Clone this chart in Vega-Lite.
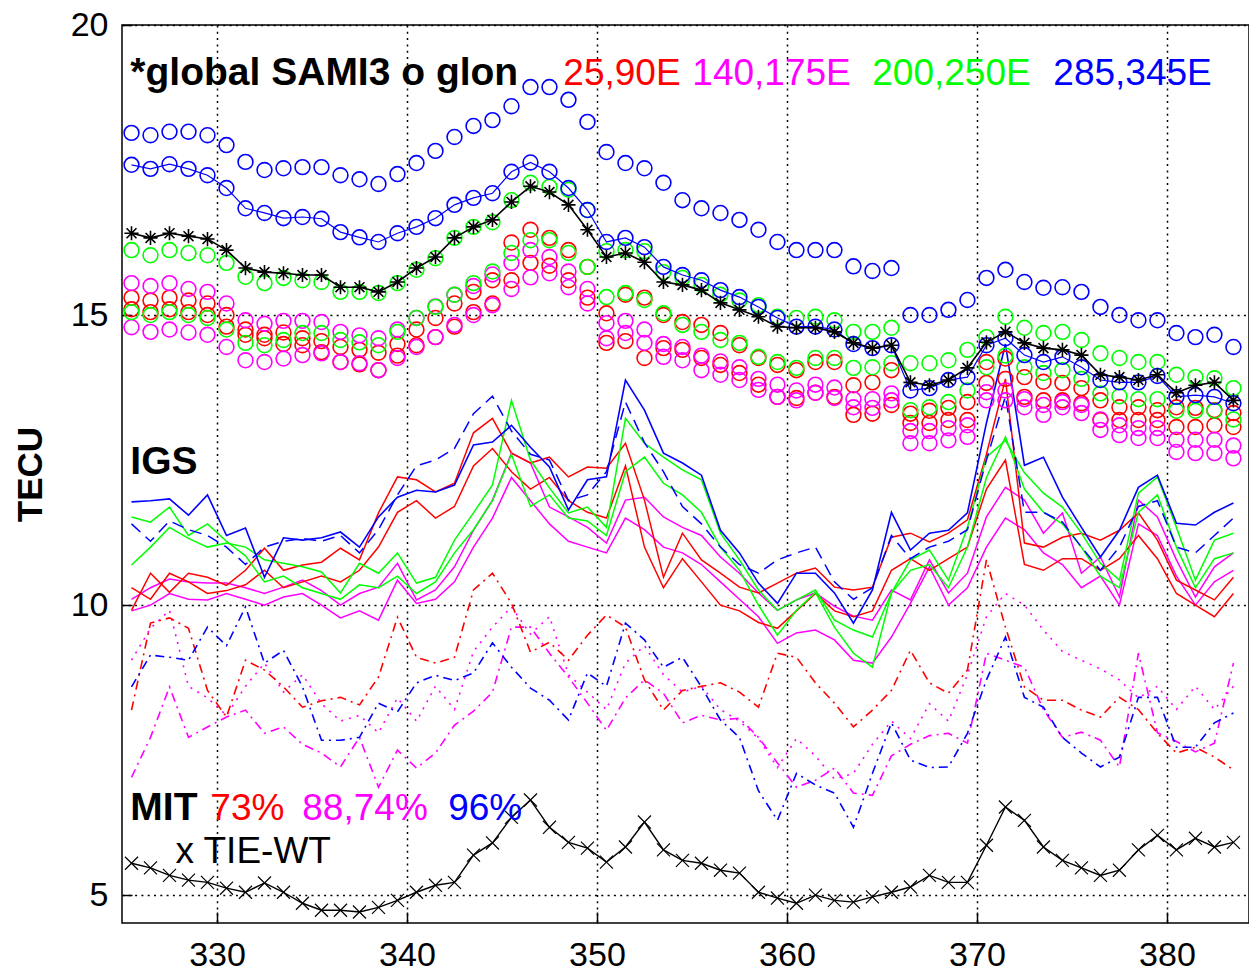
{
"$schema":"https://vega.github.io/schema/vega-lite/v6.json",
"width":1127,"height":898,
"autosize":{"type":"none"},
"padding":{"left":122,"top":25,"right":0,"bottom":49},
"background":"white",
"config":{"view":{"stroke":"black","strokeWidth":1.5},
"axis":{"domain":false,"grid":true,"gridColor":"black","gridDash":[2,4.3],"gridWidth":1.5,"gridOpacity":1,"tickColor":"black","tickWidth":1.5,"labelColor":"black","labelFont":"Liberation Sans","labelFontSize":34,"labelFontWeight":"normal"}},
"datasets":{
"k":[{"x":325.5,"y":16.41},{"x":326.5,"y":16.33},{"x":327.5,"y":16.41},{"x":328.5,"y":16.36},{"x":329.5,"y":16.31},{"x":330.5,"y":16.12},{"x":331.5,"y":15.81},{"x":332.5,"y":15.74},{"x":333.5,"y":15.72},{"x":334.5,"y":15.69},{"x":335.5,"y":15.69},{"x":336.5,"y":15.48},{"x":337.5,"y":15.48},{"x":338.5,"y":15.4},{"x":339.5,"y":15.57},{"x":340.5,"y":15.81},{"x":341.5,"y":16.0},{"x":342.5,"y":16.33},{"x":343.5,"y":16.52},{"x":344.5,"y":16.64},{"x":345.5,"y":16.95},{"x":346.5,"y":17.22},{"x":347.5,"y":17.12},{"x":348.5,"y":16.9},{"x":349.5,"y":16.47},{"x":350.5,"y":16.0},{"x":351.5,"y":16.07},{"x":352.5,"y":15.91},{"x":353.5,"y":15.57},{"x":354.5,"y":15.52},{"x":355.5,"y":15.43},{"x":356.5,"y":15.21},{"x":357.5,"y":15.09},{"x":358.5,"y":14.97},{"x":359.5,"y":14.8},{"x":360.5,"y":14.78},{"x":361.5,"y":14.78},{"x":362.5,"y":14.71},{"x":363.5,"y":14.52},{"x":364.5,"y":14.43},{"x":365.5,"y":14.48},{"x":366.5,"y":13.84},{"x":367.5,"y":13.79},{"x":368.5,"y":13.88},{"x":369.5,"y":14.09},{"x":370.5,"y":14.53},{"x":371.5,"y":14.71},{"x":372.5,"y":14.52},{"x":373.5,"y":14.43},{"x":374.5,"y":14.4},{"x":375.5,"y":14.31},{"x":376.5,"y":13.97},{"x":377.5,"y":13.93},{"x":378.5,"y":13.88},{"x":379.5,"y":13.97},{"x":380.5,"y":13.66},{"x":381.5,"y":13.79},{"x":382.5,"y":13.84},{"x":383.5,"y":13.53}],
"b1":[{"x":325.5,"y":18.14},{"x":326.5,"y":18.1},{"x":327.5,"y":18.16},{"x":328.5,"y":18.16},{"x":329.5,"y":18.1},{"x":330.5,"y":17.93},{"x":331.5,"y":17.64},{"x":332.5,"y":17.5},{"x":333.5,"y":17.53},{"x":334.5,"y":17.55},{"x":335.5,"y":17.55},{"x":336.5,"y":17.41},{"x":337.5,"y":17.34},{"x":338.5,"y":17.26},{"x":339.5,"y":17.43},{"x":340.5,"y":17.62},{"x":341.5,"y":17.83},{"x":342.5,"y":18.07},{"x":343.5,"y":18.26},{"x":344.5,"y":18.36},{"x":345.5,"y":18.6},{"x":346.5,"y":18.93},{"x":347.5,"y":18.93},{"x":348.5,"y":18.71},{"x":349.5,"y":18.33},{"x":350.5,"y":17.81},{"x":351.5,"y":17.62},{"x":352.5,"y":17.53},{"x":353.5,"y":17.28},{"x":354.5,"y":16.98},{"x":355.5,"y":16.84},{"x":356.5,"y":16.76},{"x":357.5,"y":16.64},{"x":358.5,"y":16.47},{"x":359.5,"y":16.26},{"x":360.5,"y":16.12},{"x":361.5,"y":16.12},{"x":362.5,"y":16.12},{"x":363.5,"y":15.84},{"x":364.5,"y":15.76},{"x":365.5,"y":15.81},{"x":366.5,"y":15.0},{"x":367.5,"y":15.0},{"x":368.5,"y":15.09},{"x":369.5,"y":15.26},{"x":370.5,"y":15.64},{"x":371.5,"y":15.78},{"x":372.5,"y":15.57},{"x":373.5,"y":15.47},{"x":374.5,"y":15.48},{"x":375.5,"y":15.4},{"x":376.5,"y":15.14},{"x":377.5,"y":15.0},{"x":378.5,"y":14.91},{"x":379.5,"y":14.91},{"x":380.5,"y":14.69},{"x":381.5,"y":14.62},{"x":382.5,"y":14.66},{"x":383.5,"y":14.45}],
"b2":[{"x":325.5,"y":17.59},{"x":326.5,"y":17.52},{"x":327.5,"y":17.6},{"x":328.5,"y":17.52},{"x":329.5,"y":17.41},{"x":330.5,"y":17.19},{"x":331.5,"y":16.84},{"x":332.5,"y":16.76},{"x":333.5,"y":16.67},{"x":334.5,"y":16.69},{"x":335.5,"y":16.66},{"x":336.5,"y":16.43},{"x":337.5,"y":16.34},{"x":338.5,"y":16.26},{"x":339.5,"y":16.41},{"x":340.5,"y":16.52},{"x":341.5,"y":16.67},{"x":342.5,"y":16.9},{"x":343.5,"y":17.02},{"x":344.5,"y":17.1},{"x":345.5,"y":17.47},{"x":346.5,"y":17.63},{"x":347.5,"y":17.47},{"x":348.5,"y":17.19},{"x":349.5,"y":16.81},{"x":350.5,"y":16.26},{"x":351.5,"y":16.33},{"x":352.5,"y":16.17},{"x":353.5,"y":15.83},{"x":354.5,"y":15.69},{"x":355.5,"y":15.6},{"x":356.5,"y":15.43},{"x":357.5,"y":15.31},{"x":358.5,"y":15.14},{"x":359.5,"y":14.95},{"x":360.5,"y":14.8},{"x":361.5,"y":14.8},{"x":362.5,"y":14.75},{"x":363.5,"y":14.5},{"x":364.5,"y":14.43},{"x":365.5,"y":14.48},{"x":366.5,"y":13.7},{"x":367.5,"y":13.74},{"x":368.5,"y":13.88},{"x":369.5,"y":13.93},{"x":370.5,"y":14.48},{"x":371.5,"y":14.6},{"x":372.5,"y":14.31},{"x":373.5,"y":14.19},{"x":374.5,"y":14.28},{"x":375.5,"y":14.1},{"x":376.5,"y":13.88},{"x":377.5,"y":13.84},{"x":378.5,"y":13.84},{"x":379.5,"y":13.95},{"x":380.5,"y":13.59},{"x":381.5,"y":13.62},{"x":382.5,"y":13.59},{"x":383.5,"y":13.48}],
"g1":[{"x":325.5,"y":16.12},{"x":326.5,"y":16.03},{"x":327.5,"y":16.12},{"x":328.5,"y":16.07},{"x":329.5,"y":16.03},{"x":330.5,"y":15.9},{"x":331.5,"y":15.66},{"x":332.5,"y":15.55},{"x":333.5,"y":15.64},{"x":334.5,"y":15.6},{"x":335.5,"y":15.57},{"x":336.5,"y":15.4},{"x":337.5,"y":15.4},{"x":338.5,"y":15.38},{"x":339.5,"y":15.55},{"x":340.5,"y":15.78},{"x":341.5,"y":15.98},{"x":342.5,"y":16.33},{"x":343.5,"y":16.52},{"x":344.5,"y":16.6},{"x":345.5,"y":16.98},{"x":346.5,"y":17.28},{"x":347.5,"y":17.21},{"x":348.5,"y":17.16},{"x":349.5,"y":16.81},{"x":350.5,"y":16.1},{"x":351.5,"y":16.12},{"x":352.5,"y":16.1},{"x":353.5,"y":15.74},{"x":354.5,"y":15.64},{"x":355.5,"y":15.52},{"x":356.5,"y":15.35},{"x":357.5,"y":15.25},{"x":358.5,"y":15.17},{"x":359.5,"y":14.97},{"x":360.5,"y":14.95},{"x":361.5,"y":14.97},{"x":362.5,"y":14.91},{"x":363.5,"y":14.71},{"x":364.5,"y":14.71},{"x":365.5,"y":14.78},{"x":366.5,"y":14.17},{"x":367.5,"y":14.17},{"x":368.5,"y":14.22},{"x":369.5,"y":14.4},{"x":370.5,"y":14.62},{"x":371.5,"y":14.97},{"x":372.5,"y":14.78},{"x":373.5,"y":14.69},{"x":374.5,"y":14.71},{"x":375.5,"y":14.57},{"x":376.5,"y":14.34},{"x":377.5,"y":14.26},{"x":378.5,"y":14.19},{"x":379.5,"y":14.19},{"x":380.5,"y":13.97},{"x":381.5,"y":13.93},{"x":382.5,"y":13.91},{"x":383.5,"y":13.74}],
"g2":[{"x":325.5,"y":15.05},{"x":326.5,"y":15.0},{"x":327.5,"y":15.05},{"x":328.5,"y":15.0},{"x":329.5,"y":14.95},{"x":330.5,"y":14.75},{"x":331.5,"y":14.52},{"x":332.5,"y":14.48},{"x":333.5,"y":14.57},{"x":334.5,"y":14.69},{"x":335.5,"y":14.69},{"x":336.5,"y":14.57},{"x":337.5,"y":14.53},{"x":338.5,"y":14.48},{"x":339.5,"y":14.71},{"x":340.5,"y":14.95},{"x":341.5,"y":15.14},{"x":342.5,"y":15.35},{"x":343.5,"y":15.55},{"x":344.5,"y":15.75},{"x":345.5,"y":16.07},{"x":346.5,"y":16.29},{"x":347.5,"y":16.29},{"x":348.5,"y":16.07},{"x":349.5,"y":15.83},{"x":350.5,"y":15.31},{"x":351.5,"y":15.38},{"x":352.5,"y":15.26},{"x":353.5,"y":15.03},{"x":354.5,"y":14.83},{"x":355.5,"y":14.71},{"x":356.5,"y":14.57},{"x":357.5,"y":14.52},{"x":358.5,"y":14.28},{"x":359.5,"y":14.19},{"x":360.5,"y":14.09},{"x":361.5,"y":14.26},{"x":362.5,"y":14.26},{"x":363.5,"y":14.09},{"x":364.5,"y":14.1},{"x":365.5,"y":14.17},{"x":366.5,"y":13.36},{"x":367.5,"y":13.41},{"x":368.5,"y":13.5},{"x":369.5,"y":13.7},{"x":370.5,"y":14.1},{"x":371.5,"y":14.3},{"x":372.5,"y":14.1},{"x":373.5,"y":14.0},{"x":374.5,"y":14.05},{"x":375.5,"y":13.9},{"x":376.5,"y":13.65},{"x":377.5,"y":13.6},{"x":378.5,"y":13.55},{"x":379.5,"y":13.55},{"x":380.5,"y":13.35},{"x":381.5,"y":13.35},{"x":382.5,"y":13.35},{"x":383.5,"y":13.2}],
"r1":[{"x":325.5,"y":15.3},{"x":326.5,"y":15.25},{"x":327.5,"y":15.3},{"x":328.5,"y":15.25},{"x":329.5,"y":15.2},{"x":330.5,"y":15.0},{"x":331.5,"y":14.75},{"x":332.5,"y":14.66},{"x":333.5,"y":14.7},{"x":334.5,"y":14.6},{"x":335.5,"y":14.55},{"x":336.5,"y":14.45},{"x":337.5,"y":14.4},{"x":338.5,"y":14.35},{"x":339.5,"y":14.5},{"x":340.5,"y":14.75},{"x":341.5,"y":14.95},{"x":342.5,"y":15.2},{"x":343.5,"y":15.4},{"x":344.5,"y":15.6},{"x":345.5,"y":16.25},{"x":346.5,"y":16.47},{"x":347.5,"y":16.33},{"x":348.5,"y":16.12},{"x":349.5,"y":15.83},{"x":350.5,"y":15.03},{"x":351.5,"y":15.35},{"x":352.5,"y":15.3},{"x":353.5,"y":15.0},{"x":354.5,"y":14.88},{"x":355.5,"y":14.83},{"x":356.5,"y":14.69},{"x":357.5,"y":14.48},{"x":358.5,"y":14.26},{"x":359.5,"y":14.14},{"x":360.5,"y":14.05},{"x":361.5,"y":14.19},{"x":362.5,"y":14.19},{"x":363.5,"y":13.79},{"x":364.5,"y":13.84},{"x":365.5,"y":14.05},{"x":366.5,"y":13.3},{"x":367.5,"y":13.35},{"x":368.5,"y":13.4},{"x":369.5,"y":13.5},{"x":370.5,"y":14.19},{"x":371.5,"y":14.25},{"x":372.5,"y":13.93},{"x":373.5,"y":13.85},{"x":374.5,"y":13.83},{"x":375.5,"y":13.74},{"x":376.5,"y":13.53},{"x":377.5,"y":13.41},{"x":378.5,"y":13.41},{"x":379.5,"y":13.36},{"x":380.5,"y":13.41},{"x":381.5,"y":13.4},{"x":382.5,"y":13.36},{"x":383.5,"y":13.31}],
"r2":[{"x":325.5,"y":15.1},{"x":326.5,"y":15.05},{"x":327.5,"y":15.1},{"x":328.5,"y":15.05},{"x":329.5,"y":15.0},{"x":330.5,"y":14.8},{"x":331.5,"y":14.66},{"x":332.5,"y":14.6},{"x":333.5,"y":14.5},{"x":334.5,"y":14.48},{"x":335.5,"y":14.36},{"x":336.5,"y":14.19},{"x":337.5,"y":14.15},{"x":338.5,"y":14.05},{"x":339.5,"y":14.3},{"x":340.5,"y":14.48},{"x":341.5,"y":14.62},{"x":342.5,"y":14.8},{"x":343.5,"y":15.05},{"x":344.5,"y":15.2},{"x":345.5,"y":15.6},{"x":346.5,"y":15.9},{"x":347.5,"y":15.85},{"x":348.5,"y":15.6},{"x":349.5,"y":15.3},{"x":350.5,"y":14.52},{"x":351.5,"y":14.55},{"x":352.5,"y":14.26},{"x":353.5,"y":14.43},{"x":354.5,"y":14.4},{"x":355.5,"y":14.26},{"x":356.5,"y":14.14},{"x":357.5,"y":14.0},{"x":358.5,"y":13.8},{"x":359.5,"y":13.59},{"x":360.5,"y":13.57},{"x":361.5,"y":13.66},{"x":362.5,"y":13.59},{"x":363.5,"y":13.28},{"x":364.5,"y":13.3},{"x":365.5,"y":13.45},{"x":366.5,"y":13.14},{"x":367.5,"y":13.14},{"x":368.5,"y":13.19},{"x":369.5,"y":13.19},{"x":370.5,"y":13.83},{"x":371.5,"y":13.9},{"x":372.5,"y":13.59},{"x":373.5,"y":13.53},{"x":374.5,"y":13.53},{"x":375.5,"y":13.48},{"x":376.5,"y":13.19},{"x":377.5,"y":13.19},{"x":378.5,"y":13.19},{"x":379.5,"y":13.19},{"x":380.5,"y":13.07},{"x":381.5,"y":13.07},{"x":382.5,"y":13.1},{"x":383.5,"y":13.07}],
"m1":[{"x":325.5,"y":15.55},{"x":326.5,"y":15.5},{"x":327.5,"y":15.55},{"x":328.5,"y":15.45},{"x":329.5,"y":15.4},{"x":330.5,"y":15.2},{"x":331.5,"y":14.91},{"x":332.5,"y":14.85},{"x":333.5,"y":14.9},{"x":334.5,"y":14.9},{"x":335.5,"y":14.88},{"x":336.5,"y":14.71},{"x":337.5,"y":14.65},{"x":338.5,"y":14.6},{"x":339.5,"y":14.75},{"x":340.5,"y":14.95},{"x":341.5,"y":15.15},{"x":342.5,"y":15.35},{"x":343.5,"y":15.5},{"x":344.5,"y":15.7},{"x":345.5,"y":15.9},{"x":346.5,"y":16.12},{"x":347.5,"y":16.0},{"x":348.5,"y":15.75},{"x":349.5,"y":15.45},{"x":350.5,"y":14.86},{"x":351.5,"y":14.9},{"x":352.5,"y":14.75},{"x":353.5,"y":14.5},{"x":354.5,"y":14.45},{"x":355.5,"y":14.3},{"x":356.5,"y":14.2},{"x":357.5,"y":14.1},{"x":358.5,"y":13.9},{"x":359.5,"y":13.8},{"x":360.5,"y":13.7},{"x":361.5,"y":13.8},{"x":362.5,"y":13.75},{"x":363.5,"y":13.55},{"x":364.5,"y":13.55},{"x":365.5,"y":13.65},{"x":366.5,"y":13.0},{"x":367.5,"y":13.0},{"x":368.5,"y":13.05},{"x":369.5,"y":13.1},{"x":370.5,"y":13.67},{"x":371.5,"y":13.7},{"x":372.5,"y":13.55},{"x":373.5,"y":13.45},{"x":374.5,"y":13.5},{"x":375.5,"y":13.45},{"x":376.5,"y":13.2},{"x":377.5,"y":13.1},{"x":378.5,"y":13.05},{"x":379.5,"y":13.05},{"x":380.5,"y":12.85},{"x":381.5,"y":12.85},{"x":382.5,"y":12.85},{"x":383.5,"y":12.75}],
"m2":[{"x":325.5,"y":14.79},{"x":326.5,"y":14.71},{"x":327.5,"y":14.75},{"x":328.5,"y":14.7},{"x":329.5,"y":14.66},{"x":330.5,"y":14.45},{"x":331.5,"y":14.22},{"x":332.5,"y":14.19},{"x":333.5,"y":14.25},{"x":334.5,"y":14.31},{"x":335.5,"y":14.34},{"x":336.5,"y":14.19},{"x":337.5,"y":14.17},{"x":338.5,"y":14.05},{"x":339.5,"y":14.26},{"x":340.5,"y":14.45},{"x":341.5,"y":14.62},{"x":342.5,"y":14.83},{"x":343.5,"y":15.0},{"x":344.5,"y":15.17},{"x":345.5,"y":15.45},{"x":346.5,"y":15.65},{"x":347.5,"y":15.72},{"x":348.5,"y":15.48},{"x":349.5,"y":15.2},{"x":350.5,"y":14.6},{"x":351.5,"y":14.69},{"x":352.5,"y":14.52},{"x":353.5,"y":14.28},{"x":354.5,"y":14.22},{"x":355.5,"y":14.05},{"x":356.5,"y":13.97},{"x":357.5,"y":13.88},{"x":358.5,"y":13.71},{"x":359.5,"y":13.59},{"x":360.5,"y":13.53},{"x":361.5,"y":13.66},{"x":362.5,"y":13.57},{"x":363.5,"y":13.41},{"x":364.5,"y":13.4},{"x":365.5,"y":13.53},{"x":366.5,"y":12.79},{"x":367.5,"y":12.79},{"x":368.5,"y":12.84},{"x":369.5,"y":12.9},{"x":370.5,"y":13.53},{"x":371.5,"y":13.53},{"x":372.5,"y":13.41},{"x":373.5,"y":13.28},{"x":374.5,"y":13.41},{"x":375.5,"y":13.31},{"x":376.5,"y":13.02},{"x":377.5,"y":12.93},{"x":378.5,"y":12.88},{"x":379.5,"y":12.88},{"x":380.5,"y":12.64},{"x":381.5,"y":12.62},{"x":382.5,"y":12.62},{"x":383.5,"y":12.53}],
"ib1":[{"x":325.5,"y":11.78},{"x":326.5,"y":11.8},{"x":327.5,"y":11.83},{"x":328.5,"y":11.55},{"x":329.5,"y":11.9},{"x":330.5,"y":11.2},{"x":331.5,"y":11.33},{"x":332.5,"y":10.48},{"x":333.5,"y":11.16},{"x":334.5,"y":11.12},{"x":335.5,"y":11.16},{"x":336.5,"y":11.26},{"x":337.5,"y":11.0},{"x":338.5,"y":11.52},{"x":339.5,"y":11.86},{"x":340.5,"y":11.98},{"x":341.5,"y":11.95},{"x":342.5,"y":12.07},{"x":343.5,"y":12.76},{"x":344.5,"y":12.81},{"x":345.5,"y":13.1},{"x":346.5,"y":12.72},{"x":347.5,"y":12.38},{"x":348.5,"y":11.64},{"x":349.5,"y":12.16},{"x":350.5,"y":12.21},{"x":351.5,"y":13.88},{"x":352.5,"y":13.36},{"x":353.5,"y":12.62},{"x":354.5,"y":12.45},{"x":355.5,"y":12.24},{"x":356.5,"y":11.29},{"x":357.5,"y":10.9},{"x":358.5,"y":10.38},{"x":359.5,"y":10.03},{"x":360.5,"y":10.55},{"x":361.5,"y":10.55},{"x":362.5,"y":10.21},{"x":363.5,"y":9.69},{"x":364.5,"y":10.26},{"x":365.5,"y":11.6},{"x":366.5,"y":10.95},{"x":367.5,"y":11.24},{"x":368.5,"y":11.29},{"x":369.5,"y":11.59},{"x":370.5,"y":13.14},{"x":371.5,"y":14.5},{"x":372.5,"y":12.41},{"x":373.5,"y":12.55},{"x":374.5,"y":11.86},{"x":375.5,"y":11.34},{"x":376.5,"y":10.83},{"x":377.5,"y":11.29},{"x":378.5,"y":12.03},{"x":379.5,"y":12.24},{"x":380.5,"y":11.41},{"x":381.5,"y":11.38},{"x":382.5,"y":11.6},{"x":383.5,"y":11.76}],
"ib2":[{"x":325.5,"y":11.4},{"x":326.5,"y":11.1},{"x":327.5,"y":11.45},{"x":328.5,"y":11.3},{"x":329.5,"y":11.2},{"x":330.5,"y":11.0},{"x":331.5,"y":10.7},{"x":332.5,"y":11.0},{"x":333.5,"y":11.1},{"x":334.5,"y":11.15},{"x":335.5,"y":11.1},{"x":336.5,"y":11.2},{"x":337.5,"y":10.9},{"x":338.5,"y":11.3},{"x":339.5,"y":11.9},{"x":340.5,"y":12.4},{"x":341.5,"y":12.5},{"x":342.5,"y":12.7},{"x":343.5,"y":13.3},{"x":344.5,"y":13.6},{"x":345.5,"y":13.0},{"x":346.5,"y":12.6},{"x":347.5,"y":12.5},{"x":348.5,"y":11.8},{"x":349.5,"y":11.9},{"x":350.5,"y":12.3},{"x":351.5,"y":13.5},{"x":352.5,"y":12.8},{"x":353.5,"y":12.3},{"x":354.5,"y":11.7},{"x":355.5,"y":11.4},{"x":356.5,"y":11.0},{"x":357.5,"y":10.7},{"x":358.5,"y":10.55},{"x":359.5,"y":10.78},{"x":360.5,"y":10.9},{"x":361.5,"y":11.0},{"x":362.5,"y":10.4},{"x":363.5,"y":10.1},{"x":364.5,"y":10.3},{"x":365.5,"y":11.2},{"x":366.5,"y":10.8},{"x":367.5,"y":11.0},{"x":368.5,"y":11.1},{"x":369.5,"y":11.3},{"x":370.5,"y":12.5},{"x":371.5,"y":13.6},{"x":372.5,"y":11.6},{"x":373.5,"y":11.6},{"x":374.5,"y":11.43},{"x":375.5,"y":11.0},{"x":376.5,"y":10.6},{"x":377.5,"y":11.0},{"x":378.5,"y":11.7},{"x":379.5,"y":11.8},{"x":380.5,"y":11.0},{"x":381.5,"y":10.9},{"x":382.5,"y":11.2},{"x":383.5,"y":11.5}],
"ig1":[{"x":325.5,"y":10.69},{"x":326.5,"y":11.0},{"x":327.5,"y":11.34},{"x":328.5,"y":11.15},{"x":329.5,"y":11.0},{"x":330.5,"y":11.07},{"x":331.5,"y":11.0},{"x":332.5,"y":10.78},{"x":333.5,"y":10.72},{"x":334.5,"y":10.66},{"x":335.5,"y":10.57},{"x":336.5,"y":10.21},{"x":337.5,"y":10.72},{"x":338.5,"y":10.55},{"x":339.5,"y":10.9},{"x":340.5,"y":10.38},{"x":341.5,"y":10.48},{"x":342.5,"y":11.12},{"x":343.5,"y":11.59},{"x":344.5,"y":12.07},{"x":345.5,"y":13.53},{"x":346.5,"y":12.5},{"x":347.5,"y":12.02},{"x":348.5,"y":11.59},{"x":349.5,"y":11.69},{"x":350.5,"y":11.34},{"x":351.5,"y":13.22},{"x":352.5,"y":12.79},{"x":353.5,"y":12.55},{"x":354.5,"y":12.33},{"x":355.5,"y":12.16},{"x":356.5,"y":11.24},{"x":357.5,"y":10.78},{"x":358.5,"y":10.26},{"x":359.5,"y":9.91},{"x":360.5,"y":10.09},{"x":361.5,"y":10.26},{"x":362.5,"y":9.74},{"x":363.5,"y":9.57},{"x":364.5,"y":9.45},{"x":365.5,"y":10.21},{"x":366.5,"y":10.78},{"x":367.5,"y":10.95},{"x":368.5,"y":10.43},{"x":369.5,"y":11.34},{"x":370.5,"y":12.55},{"x":371.5,"y":12.84},{"x":372.5,"y":12.28},{"x":373.5,"y":11.93},{"x":374.5,"y":11.69},{"x":375.5,"y":11.24},{"x":376.5,"y":10.72},{"x":377.5,"y":10.43},{"x":378.5,"y":11.93},{"x":379.5,"y":12.21},{"x":380.5,"y":11.34},{"x":381.5,"y":10.43},{"x":382.5,"y":11.12},{"x":383.5,"y":11.24}],
"ig2":[{"x":325.5,"y":11.52},{"x":326.5,"y":11.43},{"x":327.5,"y":11.69},{"x":328.5,"y":11.2},{"x":329.5,"y":11.4},{"x":330.5,"y":11.1},{"x":331.5,"y":10.85},{"x":332.5,"y":10.4},{"x":333.5,"y":10.5},{"x":334.5,"y":10.3},{"x":335.5,"y":10.2},{"x":336.5,"y":10.1},{"x":337.5,"y":10.35},{"x":338.5,"y":10.3},{"x":339.5,"y":10.5},{"x":340.5,"y":10.2},{"x":341.5,"y":10.4},{"x":342.5,"y":10.9},{"x":343.5,"y":11.3},{"x":344.5,"y":11.8},{"x":345.5,"y":12.6},{"x":346.5,"y":11.7},{"x":347.5,"y":11.9},{"x":348.5,"y":11.5},{"x":349.5,"y":11.45},{"x":350.5,"y":11.2},{"x":351.5,"y":12.3},{"x":352.5,"y":12.55},{"x":353.5,"y":12.1},{"x":354.5,"y":11.9},{"x":355.5,"y":11.6},{"x":356.5,"y":11.0},{"x":357.5,"y":10.6},{"x":358.5,"y":10.0},{"x":359.5,"y":9.48},{"x":360.5,"y":9.91},{"x":361.5,"y":10.22},{"x":362.5,"y":9.62},{"x":363.5,"y":9.17},{"x":364.5,"y":8.93},{"x":365.5,"y":10.21},{"x":366.5,"y":10.6},{"x":367.5,"y":10.7},{"x":368.5,"y":10.3},{"x":369.5,"y":11.0},{"x":370.5,"y":12.2},{"x":371.5,"y":12.9},{"x":372.5,"y":12.0},{"x":373.5,"y":11.6},{"x":374.5,"y":11.4},{"x":375.5,"y":11.0},{"x":376.5,"y":10.5},{"x":377.5,"y":10.3},{"x":378.5,"y":11.6},{"x":379.5,"y":11.9},{"x":380.5,"y":11.0},{"x":381.5,"y":10.3},{"x":382.5,"y":10.8},{"x":383.5,"y":10.9}],
"ir1":[{"x":325.5,"y":9.91},{"x":326.5,"y":10.55},{"x":327.5,"y":10.22},{"x":328.5,"y":10.55},{"x":329.5,"y":10.48},{"x":330.5,"y":10.34},{"x":331.5,"y":10.6},{"x":332.5,"y":10.98},{"x":333.5,"y":10.6},{"x":334.5,"y":10.69},{"x":335.5,"y":10.74},{"x":336.5,"y":10.98},{"x":337.5,"y":10.78},{"x":338.5,"y":11.59},{"x":339.5,"y":12.21},{"x":340.5,"y":12.16},{"x":341.5,"y":11.95},{"x":342.5,"y":12.1},{"x":343.5,"y":12.97},{"x":344.5,"y":13.22},{"x":345.5,"y":12.62},{"x":346.5,"y":12.45},{"x":347.5,"y":12.55},{"x":348.5,"y":12.21},{"x":349.5,"y":12.38},{"x":350.5,"y":12.36},{"x":351.5,"y":12.79},{"x":352.5,"y":11.81},{"x":353.5,"y":10.48},{"x":354.5,"y":11.24},{"x":355.5,"y":10.78},{"x":356.5,"y":10.55},{"x":357.5,"y":10.31},{"x":358.5,"y":10.21},{"x":359.5,"y":10.38},{"x":360.5,"y":10.55},{"x":361.5,"y":10.64},{"x":362.5,"y":10.31},{"x":363.5,"y":10.26},{"x":364.5,"y":10.31},{"x":365.5,"y":11.17},{"x":366.5,"y":11.24},{"x":367.5,"y":11.09},{"x":368.5,"y":11.24},{"x":369.5,"y":11.47},{"x":370.5,"y":12.6},{"x":371.5,"y":13.9},{"x":372.5,"y":11.07},{"x":373.5,"y":11.0},{"x":374.5,"y":11.17},{"x":375.5,"y":11.24},{"x":376.5,"y":11.12},{"x":377.5,"y":11.29},{"x":378.5,"y":11.59},{"x":379.5,"y":11.12},{"x":380.5,"y":10.43},{"x":381.5,"y":10.26},{"x":382.5,"y":10.09},{"x":383.5,"y":10.48}],
"ir2":[{"x":325.5,"y":10.3},{"x":326.5,"y":10.1},{"x":327.5,"y":10.55},{"x":328.5,"y":10.4},{"x":329.5,"y":10.2},{"x":330.5,"y":10.25},{"x":331.5,"y":10.35},{"x":332.5,"y":10.6},{"x":333.5,"y":10.3},{"x":334.5,"y":10.4},{"x":335.5,"y":10.5},{"x":336.5,"y":10.4},{"x":337.5,"y":10.6},{"x":338.5,"y":11.0},{"x":339.5,"y":11.6},{"x":340.5,"y":11.8},{"x":341.5,"y":11.5},{"x":342.5,"y":11.7},{"x":343.5,"y":12.4},{"x":344.5,"y":12.7},{"x":345.5,"y":12.3},{"x":346.5,"y":12.0},{"x":347.5,"y":12.2},{"x":348.5,"y":11.8},{"x":349.5,"y":11.6},{"x":350.5,"y":11.5},{"x":351.5,"y":12.4},{"x":352.5,"y":11.0},{"x":353.5,"y":10.3},{"x":354.5,"y":10.8},{"x":355.5,"y":10.4},{"x":356.5,"y":10.0},{"x":357.5,"y":9.9},{"x":358.5,"y":9.7},{"x":359.5,"y":9.6},{"x":360.5,"y":9.9},{"x":361.5,"y":10.2},{"x":362.5,"y":9.9},{"x":363.5,"y":9.8},{"x":364.5,"y":9.9},{"x":365.5,"y":10.6},{"x":366.5,"y":10.8},{"x":367.5,"y":10.6},{"x":368.5,"y":10.8},{"x":369.5,"y":11.0},{"x":370.5,"y":12.0},{"x":371.5,"y":12.5},{"x":372.5,"y":10.7},{"x":373.5,"y":10.6},{"x":374.5,"y":10.8},{"x":375.5,"y":10.8},{"x":376.5,"y":10.6},{"x":377.5,"y":10.8},{"x":378.5,"y":11.2},{"x":379.5,"y":10.8},{"x":380.5,"y":10.2},{"x":381.5,"y":10.0},{"x":382.5,"y":9.8},{"x":383.5,"y":10.2}],
"im1":[{"x":325.5,"y":10.1},{"x":326.5,"y":10.3},{"x":327.5,"y":10.45},{"x":328.5,"y":10.4},{"x":329.5,"y":10.38},{"x":330.5,"y":10.38},{"x":331.5,"y":10.3},{"x":332.5,"y":10.2},{"x":333.5,"y":10.31},{"x":334.5,"y":10.43},{"x":335.5,"y":10.25},{"x":336.5,"y":10.0},{"x":337.5,"y":10.2},{"x":338.5,"y":10.31},{"x":339.5,"y":10.72},{"x":340.5,"y":10.09},{"x":341.5,"y":10.26},{"x":342.5,"y":10.66},{"x":343.5,"y":11.29},{"x":344.5,"y":11.81},{"x":345.5,"y":12.62},{"x":346.5,"y":12.45},{"x":347.5,"y":11.69},{"x":348.5,"y":11.52},{"x":349.5,"y":11.34},{"x":350.5,"y":11.07},{"x":351.5,"y":11.81},{"x":352.5,"y":11.86},{"x":353.5,"y":11.52},{"x":354.5,"y":11.34},{"x":355.5,"y":11.2},{"x":356.5,"y":10.83},{"x":357.5,"y":10.55},{"x":358.5,"y":10.21},{"x":359.5,"y":9.91},{"x":360.5,"y":10.09},{"x":361.5,"y":10.21},{"x":362.5,"y":9.98},{"x":363.5,"y":9.81},{"x":364.5,"y":9.74},{"x":365.5,"y":10.26},{"x":366.5,"y":10.09},{"x":367.5,"y":10.78},{"x":368.5,"y":10.21},{"x":369.5,"y":10.55},{"x":370.5,"y":11.52},{"x":371.5,"y":12.03},{"x":372.5,"y":11.81},{"x":373.5,"y":11.24},{"x":374.5,"y":11.59},{"x":375.5,"y":10.55},{"x":376.5,"y":10.83},{"x":377.5,"y":10.14},{"x":378.5,"y":11.81},{"x":379.5,"y":11.52},{"x":380.5,"y":10.78},{"x":381.5,"y":10.14},{"x":382.5,"y":10.66},{"x":383.5,"y":10.9}],
"im2":[{"x":325.5,"y":9.9},{"x":326.5,"y":10.0},{"x":327.5,"y":10.2},{"x":328.5,"y":10.1},{"x":329.5,"y":10.09},{"x":330.5,"y":10.2},{"x":331.5,"y":10.1},{"x":332.5,"y":10.0},{"x":333.5,"y":10.14},{"x":334.5,"y":10.2},{"x":335.5,"y":10.0},{"x":336.5,"y":9.78},{"x":337.5,"y":9.9},{"x":338.5,"y":9.74},{"x":339.5,"y":10.43},{"x":340.5,"y":10.03},{"x":341.5,"y":10.1},{"x":342.5,"y":10.4},{"x":343.5,"y":11.0},{"x":344.5,"y":11.5},{"x":345.5,"y":12.2},{"x":346.5,"y":11.8},{"x":347.5,"y":11.4},{"x":348.5,"y":11.1},{"x":349.5,"y":11.0},{"x":350.5,"y":10.9},{"x":351.5,"y":11.5},{"x":352.5,"y":11.3},{"x":353.5,"y":11.0},{"x":354.5,"y":10.9},{"x":355.5,"y":10.7},{"x":356.5,"y":10.4},{"x":357.5,"y":10.1},{"x":358.5,"y":9.8},{"x":359.5,"y":9.34},{"x":360.5,"y":9.52},{"x":361.5,"y":9.57},{"x":362.5,"y":9.4},{"x":363.5,"y":9.05},{"x":364.5,"y":9.0},{"x":365.5,"y":9.45},{"x":366.5,"y":10.03},{"x":367.5,"y":10.66},{"x":368.5,"y":10.0},{"x":369.5,"y":10.3},{"x":370.5,"y":11.0},{"x":371.5,"y":11.5},{"x":372.5,"y":11.3},{"x":373.5,"y":10.9},{"x":374.5,"y":10.7},{"x":375.5,"y":10.3},{"x":376.5,"y":10.5},{"x":377.5,"y":10.0},{"x":378.5,"y":11.4},{"x":379.5,"y":11.2},{"x":380.5,"y":10.5},{"x":381.5,"y":10.0},{"x":382.5,"y":10.4},{"x":383.5,"y":10.6}],
"mr":[{"x":325.5,"y":8.19},{"x":326.5,"y":9.69},{"x":327.5,"y":9.78},{"x":328.5,"y":9.6},{"x":329.5,"y":8.53},{"x":330.5,"y":8.07},{"x":331.5,"y":9.05},{"x":332.5,"y":8.88},{"x":333.5,"y":8.59},{"x":334.5,"y":8.24},{"x":335.5,"y":8.35},{"x":336.5,"y":8.41},{"x":337.5,"y":8.28},{"x":338.5,"y":8.76},{"x":339.5,"y":9.79},{"x":340.5,"y":9.1},{"x":341.5,"y":9.0},{"x":342.5,"y":9.1},{"x":343.5,"y":10.26},{"x":344.5,"y":10.55},{"x":345.5,"y":10.03},{"x":346.5,"y":9.19},{"x":347.5,"y":9.36},{"x":348.5,"y":9.05},{"x":349.5,"y":9.48},{"x":350.5,"y":9.83},{"x":351.5,"y":9.62},{"x":352.5,"y":8.71},{"x":353.5,"y":8.19},{"x":354.5,"y":8.53},{"x":355.5,"y":8.6},{"x":356.5,"y":8.66},{"x":357.5,"y":8.5},{"x":358.5,"y":8.24},{"x":359.5,"y":9.17},{"x":360.5,"y":9.1},{"x":361.5,"y":8.66},{"x":362.5,"y":8.31},{"x":363.5,"y":7.9},{"x":364.5,"y":8.19},{"x":365.5,"y":8.53},{"x":366.5,"y":9.22},{"x":367.5,"y":8.66},{"x":368.5,"y":8.48},{"x":369.5,"y":8.88},{"x":370.5,"y":10.78},{"x":371.5,"y":9.62},{"x":372.5,"y":8.59},{"x":373.5,"y":8.36},{"x":374.5,"y":8.36},{"x":375.5,"y":8.19},{"x":376.5,"y":8.07},{"x":377.5,"y":8.41},{"x":378.5,"y":8.2},{"x":379.5,"y":7.79},{"x":380.5,"y":7.45},{"x":381.5,"y":7.55},{"x":382.5,"y":7.38},{"x":383.5,"y":7.16}],
"mb":[{"x":325.5,"y":8.59},{"x":326.5,"y":9.14},{"x":327.5,"y":9.1},{"x":328.5,"y":9.05},{"x":329.5,"y":9.62},{"x":330.5,"y":9.3},{"x":331.5,"y":9.97},{"x":332.5,"y":9.0},{"x":333.5,"y":9.22},{"x":334.5,"y":8.59},{"x":335.5,"y":7.67},{"x":336.5,"y":7.67},{"x":337.5,"y":7.72},{"x":338.5,"y":8.31},{"x":339.5,"y":8.16},{"x":340.5,"y":8.66},{"x":341.5,"y":8.79},{"x":342.5,"y":8.7},{"x":343.5,"y":8.83},{"x":344.5,"y":9.35},{"x":345.5,"y":8.93},{"x":346.5,"y":8.57},{"x":347.5,"y":8.36},{"x":348.5,"y":8.02},{"x":349.5,"y":8.83},{"x":350.5,"y":8.6},{"x":351.5,"y":9.69},{"x":352.5,"y":9.4},{"x":353.5,"y":8.93},{"x":354.5,"y":9.1},{"x":355.5,"y":8.59},{"x":356.5,"y":8.02},{"x":357.5,"y":7.72},{"x":358.5,"y":6.8},{"x":359.5,"y":6.29},{"x":360.5,"y":7.1},{"x":361.5,"y":6.9},{"x":362.5,"y":6.76},{"x":363.5,"y":6.17},{"x":364.5,"y":7.1},{"x":365.5,"y":7.97},{"x":366.5,"y":7.33},{"x":367.5,"y":7.2},{"x":368.5,"y":7.21},{"x":369.5,"y":7.79},{"x":370.5,"y":8.71},{"x":371.5,"y":9.45},{"x":372.5,"y":8.41},{"x":373.5,"y":8.24},{"x":374.5,"y":7.72},{"x":375.5,"y":7.45},{"x":376.5,"y":7.21},{"x":377.5,"y":7.38},{"x":378.5,"y":8.41},{"x":379.5,"y":8.41},{"x":380.5,"y":7.55},{"x":381.5,"y":7.55},{"x":382.5,"y":7.97},{"x":383.5,"y":8.14}],
"mm1":[{"x":325.5,"y":7.03},{"x":326.5,"y":7.72},{"x":327.5,"y":8.59},{"x":328.5,"y":7.72},{"x":329.5,"y":7.9},{"x":330.5,"y":8.07},{"x":331.5,"y":8.19},{"x":332.5,"y":7.79},{"x":333.5,"y":7.9},{"x":334.5,"y":7.6},{"x":335.5,"y":7.45},{"x":336.5,"y":7.21},{"x":337.5,"y":7.72},{"x":338.5,"y":6.86},{"x":339.5,"y":7.5},{"x":340.5,"y":7.19},{"x":341.5,"y":7.45},{"x":342.5,"y":7.93},{"x":343.5,"y":8.17},{"x":344.5,"y":8.5},{"x":345.5,"y":9.62},{"x":346.5,"y":9.62},{"x":347.5,"y":9.17},{"x":348.5,"y":8.76},{"x":349.5,"y":8.31},{"x":350.5,"y":7.84},{"x":351.5,"y":8.4},{"x":352.5,"y":8.71},{"x":353.5,"y":8.48},{"x":354.5,"y":7.97},{"x":355.5,"y":8.1},{"x":356.5,"y":8.02},{"x":357.5,"y":8.05},{"x":358.5,"y":7.72},{"x":359.5,"y":7.28},{"x":360.5,"y":6.86},{"x":361.5,"y":6.98},{"x":362.5,"y":7.19},{"x":363.5,"y":6.76},{"x":364.5,"y":6.72},{"x":365.5,"y":7.4},{"x":366.5,"y":7.6},{"x":367.5,"y":7.75},{"x":368.5,"y":7.79},{"x":369.5,"y":7.62},{"x":370.5,"y":9.17},{"x":371.5,"y":9.05},{"x":372.5,"y":8.93},{"x":373.5,"y":8.2},{"x":374.5,"y":7.72},{"x":375.5,"y":7.81},{"x":376.5,"y":7.67},{"x":377.5,"y":7.21},{"x":378.5,"y":9.17},{"x":379.5,"y":7.8},{"x":380.5,"y":7.65},{"x":381.5,"y":7.47},{"x":382.5,"y":7.62},{"x":383.5,"y":9.0}],
"mm2":[{"x":325.5,"y":9.05},{"x":326.5,"y":9.6},{"x":327.5,"y":9.91},{"x":328.5,"y":8.6},{"x":329.5,"y":8.4},{"x":330.5,"y":8.1},{"x":331.5,"y":8.6},{"x":332.5,"y":9.0},{"x":333.5,"y":8.5},{"x":334.5,"y":8.8},{"x":335.5,"y":8.3},{"x":336.5,"y":8.0},{"x":337.5,"y":8.1},{"x":338.5,"y":7.8},{"x":339.5,"y":8.4},{"x":340.5,"y":8.0},{"x":341.5,"y":8.6},{"x":342.5,"y":8.2},{"x":343.5,"y":9.2},{"x":344.5,"y":9.62},{"x":345.5,"y":9.97},{"x":346.5,"y":9.5},{"x":347.5,"y":9.8},{"x":348.5,"y":8.8},{"x":349.5,"y":8.5},{"x":350.5,"y":8.2},{"x":351.5,"y":9.0},{"x":352.5,"y":9.3},{"x":353.5,"y":8.8},{"x":354.5,"y":8.5},{"x":355.5,"y":8.6},{"x":356.5,"y":8.2},{"x":357.5,"y":8.0},{"x":358.5,"y":7.7},{"x":359.5,"y":7.2},{"x":360.5,"y":7.7},{"x":361.5,"y":7.4},{"x":362.5,"y":7.0},{"x":363.5,"y":7.1},{"x":364.5,"y":7.6},{"x":365.5,"y":8.0},{"x":366.5,"y":7.7},{"x":367.5,"y":8.3},{"x":368.5,"y":8.0},{"x":369.5,"y":8.8},{"x":370.5,"y":9.8},{"x":371.5,"y":10.2},{"x":372.5,"y":10.0},{"x":373.5,"y":9.57},{"x":374.5,"y":9.2},{"x":375.5,"y":9.05},{"x":376.5,"y":8.9},{"x":377.5,"y":8.71},{"x":378.5,"y":8.4},{"x":379.5,"y":8.6},{"x":380.5,"y":8.2},{"x":381.5,"y":8.6},{"x":382.5,"y":8.2},{"x":383.5,"y":8.6}],
"tie":[{"x":325.5,"y":5.55},{"x":326.5,"y":5.47},{"x":327.5,"y":5.34},{"x":328.5,"y":5.26},{"x":329.5,"y":5.22},{"x":330.5,"y":5.12},{"x":331.5,"y":5.05},{"x":332.5,"y":5.21},{"x":333.5,"y":5.05},{"x":334.5,"y":4.86},{"x":335.5,"y":4.74},{"x":336.5,"y":4.74},{"x":337.5,"y":4.71},{"x":338.5,"y":4.79},{"x":339.5,"y":4.91},{"x":340.5,"y":5.05},{"x":341.5,"y":5.17},{"x":342.5,"y":5.22},{"x":343.5,"y":5.69},{"x":344.5,"y":5.9},{"x":345.5,"y":6.34},{"x":346.5,"y":6.64},{"x":347.5,"y":6.17},{"x":348.5,"y":5.91},{"x":349.5,"y":5.81},{"x":350.5,"y":5.57},{"x":351.5,"y":5.83},{"x":352.5,"y":6.26},{"x":353.5,"y":5.78},{"x":354.5,"y":5.6},{"x":355.5,"y":5.55},{"x":356.5,"y":5.43},{"x":357.5,"y":5.38},{"x":358.5,"y":5.05},{"x":359.5,"y":4.95},{"x":360.5,"y":4.86},{"x":361.5,"y":5.0},{"x":362.5,"y":4.91},{"x":363.5,"y":4.88},{"x":364.5,"y":4.97},{"x":365.5,"y":5.05},{"x":366.5,"y":5.14},{"x":367.5,"y":5.34},{"x":368.5,"y":5.22},{"x":369.5,"y":5.22},{"x":370.5,"y":5.86},{"x":371.5,"y":6.52},{"x":372.5,"y":6.29},{"x":373.5,"y":5.83},{"x":374.5,"y":5.6},{"x":375.5,"y":5.47},{"x":376.5,"y":5.34},{"x":377.5,"y":5.43},{"x":378.5,"y":5.78},{"x":379.5,"y":6.03},{"x":380.5,"y":5.78},{"x":381.5,"y":5.98},{"x":382.5,"y":5.83},{"x":383.5,"y":5.91}],
"topticks":[{"x":330},{"x":340},{"x":350},{"x":360},{"x":370},{"x":380}],
"tbold":[{"x":325.44,"y":18.97,"t":"*global SAMI3 o glon","g":"k"},{"x":325.44,"y":12.26,"t":"IGS","g":"k"},{"x":325.44,"y":6.29,"t":"MIT","g":"k"}],
"tnorm":[{"x":348.23,"y":18.97,"t":"25,90E","g":"r"},{"x":355.02,"y":18.97,"t":"140,175E","g":"m"},{"x":364.49,"y":18.97,"t":"200,250E","g":"g"},{"x":374.02,"y":18.97,"t":"285,345E","g":"b"},{"x":329.65,"y":6.29,"t":"73%","g":"r"},{"x":334.49,"y":6.29,"t":"88,74%","g":"m"},{"x":342.17,"y":6.29,"t":"96%","g":"b"},{"x":327.81,"y":5.55,"t":"x TIE-WT","g":"k"}]
},
"encoding":{
"x":{"field":"x","type":"quantitative","scale":{"domain":[325,384.32],"nice":false,"zero":false},"axis":{"orient":"bottom","values":[330,340,350,360,370,380],"format":"d","title":null,"tickSize":-11,"labelPadding":26}},
"y":{"field":"y","type":"quantitative","scale":{"domain":[4.52,20],"nice":false,"zero":false},"axis":{"values":[5,10,15,20],"format":"d","tickSize":-10,"labelPadding":24,"title":"TECU","titleFont":"Liberation Sans","titleFontSize":35,"titleFontWeight":"bold","titleColor":"black","titleAngle":-90,"titleAlign":"center","titleBaseline":"middle","titleX":-92,"titleY":449}}
},
"layer":[
{"data":{"name":"mm2"},"mark":{"type":"line","color":"#ff00ff","strokeWidth":1.6,"strokeDash":[2,6],"clip":true}},
{"data":{"name":"mm1"},"mark":{"type":"line","color":"#ff00ff","strokeWidth":1.6,"strokeDash":[9,5,2,5],"clip":true}},
{"data":{"name":"mr"},"mark":{"type":"line","color":"#ff0000","strokeWidth":1.6,"strokeDash":[9,5,2,5],"clip":true}},
{"data":{"name":"mb"},"mark":{"type":"line","color":"#0000ff","strokeWidth":1.6,"strokeDash":[9,5,2,5],"clip":true}},
{"data":{"name":"im2"},"mark":{"type":"line","color":"#ff00ff","strokeWidth":1.5,"clip":true}},
{"data":{"name":"im1"},"mark":{"type":"line","color":"#ff00ff","strokeWidth":1.5,"clip":true}},
{"data":{"name":"ir2"},"mark":{"type":"line","color":"#ff0000","strokeWidth":1.5,"clip":true}},
{"data":{"name":"ir1"},"mark":{"type":"line","color":"#ff0000","strokeWidth":1.5,"clip":true}},
{"data":{"name":"ig2"},"mark":{"type":"line","color":"#00ff00","strokeWidth":1.5,"clip":true}},
{"data":{"name":"ig1"},"mark":{"type":"line","color":"#00ff00","strokeWidth":1.5,"clip":true}},
{"data":{"name":"ib2"},"mark":{"type":"line","color":"#0000ff","strokeWidth":1.5,"strokeDash":[12,7],"clip":true}},
{"data":{"name":"ib1"},"mark":{"type":"line","color":"#0000ff","strokeWidth":1.6,"clip":true}},
{"data":{"name":"r1"},"mark":{"type":"point","shape":"circle","filled":false,"color":"#ff0000","size":220,"strokeWidth":1.6,"opacity":1,"clip":true}},
{"data":{"name":"r2"},"mark":{"type":"point","shape":"circle","filled":false,"color":"#ff0000","size":220,"strokeWidth":1.6,"opacity":1,"clip":true}},
{"data":{"name":"m1"},"mark":{"type":"point","shape":"circle","filled":false,"color":"#ff00ff","size":220,"strokeWidth":1.6,"opacity":1,"clip":true}},
{"data":{"name":"m2"},"mark":{"type":"point","shape":"circle","filled":false,"color":"#ff00ff","size":220,"strokeWidth":1.6,"opacity":1,"clip":true}},
{"data":{"name":"g2"},"mark":{"type":"point","shape":"circle","filled":false,"color":"#00ff00","size":220,"strokeWidth":1.6,"opacity":1,"clip":true}},
{"data":{"name":"g1"},"mark":{"type":"point","shape":"circle","filled":false,"color":"#00ff00","size":220,"strokeWidth":1.6,"opacity":1,"clip":true}},
{"data":{"name":"b1"},"mark":{"type":"point","shape":"circle","filled":false,"color":"#0000ff","size":220,"strokeWidth":1.6,"opacity":1,"clip":true}},
{"data":{"name":"b2"},"mark":{"type":"point","shape":"circle","filled":false,"color":"#0000ff","size":220,"strokeWidth":1.6,"opacity":1,"clip":true}},
{"data":{"name":"b2"},"mark":{"type":"line","color":"#0000ff","strokeWidth":1.2,"clip":true}},
{"data":{"name":"k"},"mark":{"type":"line","color":"black","strokeWidth":1.6,"clip":true}},
{"data":{"name":"k"},"mark":{"type":"point","shape":"M-1,0L1,0M0,-1L0,1M-0.7,-0.7L0.7,0.7M-0.7,0.7L0.7,-0.7","filled":false,"color":"black","size":200,"strokeWidth":1.6,"opacity":1,"clip":true}},
{"data":{"name":"tie"},"mark":{"type":"line","color":"black","strokeWidth":1.4,"clip":true}},
{"data":{"name":"tie"},"mark":{"type":"point","shape":"M-1,-1L1,1M-1,1L1,-1","filled":false,"color":"black","size":170,"strokeWidth":1.2,"opacity":1,"clip":true}},
{"data":{"name":"topticks"},"mark":{"type":"rule","color":"black","strokeWidth":1.5},
 "encoding":{"y":{"datum":20},"y2":{"datum":19.82}}},
{"data":{"name":"tbold"},"mark":{"type":"text","align":"left","baseline":"alphabetic","font":"Liberation Sans","fontSize":39,"fontWeight":"bold"},
 "encoding":{"text":{"field":"t"},"color":{"field":"g","type":"nominal","scale":{"domain":["k","r","m","g","b"],"range":["#000000","#ff0000","#ff00ff","#00ff00","#0000ff"]},"legend":null}}},
{"data":{"name":"tnorm"},"mark":{"type":"text","align":"left","baseline":"alphabetic","font":"Liberation Sans","fontSize":37,"fontWeight":"normal"},
 "encoding":{"text":{"field":"t"},"color":{"field":"g","type":"nominal","scale":{"domain":["k","r","m","g","b"],"range":["#000000","#ff0000","#ff00ff","#00ff00","#0000ff"]},"legend":null}}}
]
}
